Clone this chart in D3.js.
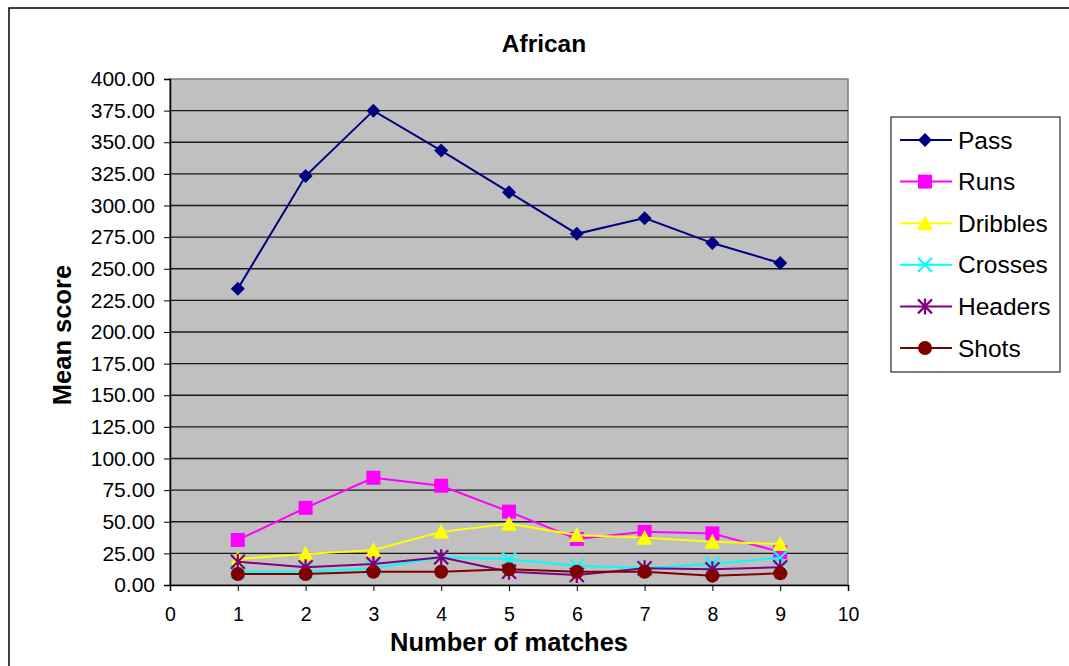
<!DOCTYPE html>
<html>
<head>
<meta charset="utf-8">
<script src="https://cdn.jsdelivr.net/npm/d3@7/dist/d3.min.js"></script>
<style>
  html, body { margin: 0; padding: 0; background: #fff; }
  svg { display: block; font-family: "Liberation Sans", Arial, sans-serif; }
</style>
</head>
<body>
<svg id="chart" width="1069" height="666"></svg>
<script>
// Mean score per match count, by action type
const matches = [1, 2, 3, 4, 5, 6, 7, 8, 9];
const pass     = [234.2, 323.3, 375.0, 343.4, 310.5, 277.6, 290.0, 270.3, 254.5];
const runs     = [35.6, 61.0, 84.8, 78.5, 58.0, 36.4, 42.0, 40.8, 26.0];
const dribbles = [20.5, 24.5, 27.7, 42.0, 48.5, 39.5, 37.4, 34.2, 32.4];
const crosses  = [10.5, 10.5, 13.2, 21.9, 20.3, 15.0, 13.7, 16.6, 21.5];
const headers  = [18.4, 14.0, 16.6, 21.9, 10.5, 7.9, 13.2, 12.4, 14.0];
const shots    = [8.7, 8.7, 10.5, 10.5, 12.4, 10.5, 10.5, 7.4, 9.2];

const seriesNames = ["Pass", "Runs", "Dribbles", "Crosses", "Headers", "Shots"];
const seriesValues = [pass, runs, dribbles, crosses, headers, shots];
const seriesColors = ["#000080", "#FF00FF", "#FFFF00", "#00FFFF", "#800080", "#800000"];
const seriesMarkers = ["diamond", "square", "triangle", "cross", "star", "circle"];

const yTicks = d3.range(0, 401, 25);
const xTicks = d3.range(0, 11, 1);

const svg = d3.select("#chart");

// Outer chart frame
svg.append("rect")
  .attr("x", 9).attr("y", 8)
  .attr("width", 1200).attr("height", 800)
  .attr("fill", "#fff").attr("stroke", "#000").attr("stroke-width", 1.5);

const plot = { left: 170, top: 79, right: 848, bottom: 585 };

const x = d3.scaleLinear().domain([0, 10]).range([plot.left, plot.right]);
const y = d3.scaleLinear().domain([0, 400]).range([plot.bottom, plot.top]);

// Plot background
svg.append("rect")
  .attr("x", plot.left).attr("y", plot.top)
  .attr("width", plot.right - plot.left).attr("height", plot.bottom - plot.top)
  .attr("fill", "#C0C0C0").attr("stroke", "#808080").attr("stroke-width", 1.5);

// Horizontal gridlines
svg.append("g")
  .selectAll("line")
  .data(yTicks.filter(d => d > 0 && d < 400))
  .join("line")
  .attr("x1", plot.left).attr("x2", plot.right)
  .attr("y1", d => y(d)).attr("y2", d => y(d))
  .attr("stroke", "#1a1a1a").attr("stroke-width", 1.3);

// Y axis
const yAxis = svg.append("g")
  .attr("transform", `translate(${plot.left},0)`)
  .call(d3.axisLeft(y).tickValues(yTicks).tickFormat(d3.format(".2f")).tickSize(6).tickPadding(9));
yAxis.select(".domain").attr("stroke", "#000").attr("stroke-width", 1.5);
yAxis.selectAll(".tick line").attr("stroke", "#000");
yAxis.selectAll(".tick text")
  .attr("font-size", 21).attr("fill", "#000")
  .attr("font-family", "Liberation Sans, Arial, sans-serif");

// X axis
const xAxis = svg.append("g")
  .attr("transform", `translate(0,${plot.bottom})`)
  .call(d3.axisBottom(x).tickValues(xTicks).tickFormat(d3.format("d")).tickSize(6).tickPadding(16));
xAxis.select(".domain").attr("stroke", "#000").attr("stroke-width", 1.5);
xAxis.selectAll(".tick line").attr("stroke", "#000");
xAxis.selectAll(".tick text")
  .attr("font-size", 19.5).attr("fill", "#000")
  .attr("font-family", "Liberation Sans, Arial, sans-serif");

// Titles
svg.append("text")
  .attr("x", 544).attr("y", 52)
  .attr("text-anchor", "middle")
  .attr("font-size", 24.5).attr("font-weight", "bold")
  .text("African");

svg.append("text")
  .attr("x", (plot.left + plot.right) / 2).attr("y", 651)
  .attr("text-anchor", "middle")
  .attr("font-size", 25.5).attr("font-weight", "bold")
  .text("Number of matches");

svg.append("text")
  .attr("transform", `translate(71,${(plot.top + plot.bottom) / 2 + 3}) rotate(-90)`)
  .attr("text-anchor", "middle")
  .attr("font-size", 25.5).attr("font-weight", "bold")
  .text("Mean score");

// Marker drawing
function drawMarker(g, type, color) {
  const s = 7;
  if (type === "diamond") {
    g.append("path").attr("d", `M0,${-s}L${s},0L0,${s}L${-s},0Z`).attr("fill", color);
  } else if (type === "square") {
    g.append("rect").attr("x", -s).attr("y", -s).attr("width", 2 * s).attr("height", 2 * s).attr("fill", color);
  } else if (type === "triangle") {
    g.append("path").attr("d", `M0,${-s - 1}L${s + 1},${s}L${-s - 1},${s}Z`).attr("fill", color);
  } else if (type === "cross") {
    g.append("path").attr("d", `M${-s},${-s}L${s},${s}M${-s},${s}L${s},${-s}`)
      .attr("stroke", color).attr("stroke-width", 2.2).attr("fill", "none");
  } else if (type === "star") {
    g.append("path").attr("d", `M${-s},${-s}L${s},${s}M${-s},${s}L${s},${-s}M0,${-s - 1}L0,${s + 1}`)
      .attr("stroke", color).attr("stroke-width", 2.2).attr("fill", "none");
  } else if (type === "circle") {
    g.append("circle").attr("r", s).attr("fill", color);
  }
}

const line = d3.line().x((d, i) => x(matches[i])).y(d => y(d));

seriesValues.forEach((vals, si) => {
  const g = svg.append("g");
  g.append("path")
    .attr("d", line(vals))
    .attr("fill", "none")
    .attr("stroke", seriesColors[si])
    .attr("stroke-width", 2);
  vals.forEach((v, i) => {
    const m = g.append("g").attr("transform", `translate(${x(matches[i])},${y(v)})`);
    drawMarker(m, seriesMarkers[si], seriesColors[si]);
  });
});

// Legend
const legend = svg.append("g");
legend.append("rect")
  .attr("x", 891).attr("y", 117).attr("width", 169).attr("height", 255)
  .attr("fill", "#fff").attr("stroke", "#000").attr("stroke-width", 1);

seriesNames.forEach((name, i) => {
  const cy = 140 + i * 41.6;
  legend.append("line")
    .attr("x1", 900).attr("x2", 952).attr("y1", cy).attr("y2", cy)
    .attr("stroke", seriesColors[i]).attr("stroke-width", 2);
  const m = legend.append("g").attr("transform", `translate(925,${cy})`);
  drawMarker(m, seriesMarkers[i], seriesColors[i]);
  legend.append("text")
    .attr("x", 958).attr("y", cy)
    .attr("dy", "0.35em")
    .attr("font-size", 24.5)
    .text(name);
});
</script>
</body>
</html>
